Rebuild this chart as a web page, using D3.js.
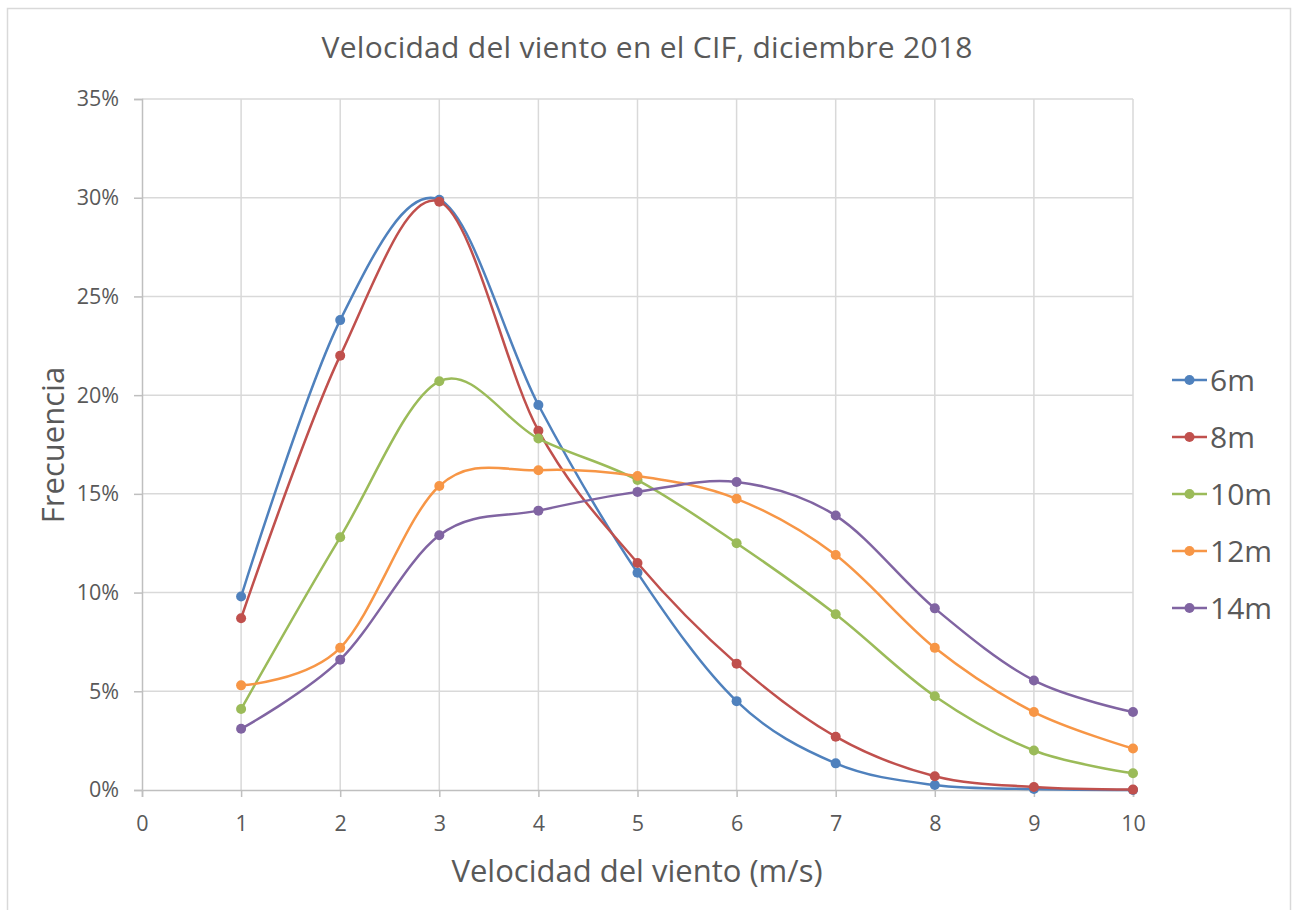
<!DOCTYPE html>
<html>
<head>
<meta charset="utf-8">
<script src="https://cdn.jsdelivr.net/npm/d3@7"></script>
<style>
  body { margin: 0; background: #fff; }
  text { font-family: "Open Sans", "Noto Sans", sans-serif; fill: #595959; }
</style>
</head>
<body>
<div id="chart"></div>
<script>
// wind speed classes (m/s)
var speeds = [1, 2, 3, 4, 5, 6, 7, 8, 9, 10];
var seriesNames = ["6m", "8m", "10m", "12m", "14m"];
var colors = ["#4F81BD", "#C0504D", "#9BBB59", "#F79646", "#8064A2"];

// frequencies (%)
var f6m  = [9.8, 23.8, 29.9, 19.5, 11.0, 4.5, 1.35, 0.25, 0.05, 0.0];
var f8m  = [8.7, 22.0, 29.8, 18.2, 11.5, 6.4, 2.7, 0.7, 0.15, 0.02];
var f10m = [4.1, 12.8, 20.7, 17.8, 15.7, 12.5, 8.9, 4.75, 2.0, 0.85];
var f12m = [5.3, 7.2, 15.4, 16.2, 15.9, 14.75, 11.9, 7.2, 3.95, 2.1];
var f14m = [3.1, 6.6, 12.9, 14.15, 15.1, 15.6, 13.9, 9.2, 5.55, 3.95];

var yTicks = [0, 5, 10, 15, 20, 25, 30, 35];
var xTicks = [0, 1, 2, 3, 4, 5, 6, 7, 8, 9, 10];

var allSeries = [f6m, f8m, f10m, f12m, f14m];

var width = 1296, height = 910;
var svg = d3.select("#chart").append("svg")
  .attr("width", width)
  .attr("height", height);

// outer frame of the chart
svg.append("rect")
  .attr("x", 7.5).attr("y", 8.5)
  .attr("width", 1283).attr("height", 920)
  .attr("fill", "none")
  .attr("stroke", "#d9d9d9")
  .attr("stroke-width", 1.5);

var x = d3.scaleLinear().domain([0, 10]).range([142, 1133]);
var y = d3.scaleLinear().domain([0, 35]).range([790, 99]);

// gridlines
svg.append("g").selectAll("line.h")
  .data(yTicks.slice(1))
  .enter().append("line")
    .attr("x1", x(0)).attr("x2", x(10))
    .attr("y1", function(d){ return y(d); })
    .attr("y2", function(d){ return y(d); })
    .attr("stroke", "#d9d9d9").attr("stroke-width", 1.5);

svg.append("g").selectAll("line.v")
  .data(xTicks.slice(1))
  .enter().append("line")
    .attr("x1", function(d){ return x(d); })
    .attr("x2", function(d){ return x(d); })
    .attr("y1", y(0)).attr("y2", y(35))
    .attr("stroke", "#d9d9d9").attr("stroke-width", 1.5);

// axes
var yAxis = d3.axisLeft(y)
  .tickValues(yTicks)
  .tickSize(8)
  .tickPadding(15)
  .tickFormat(function(d){ return d + "%"; });

var xAxis = d3.axisBottom(x)
  .tickValues(xTicks)
  .tickSize(7)
  .tickPadding(19)
  .tickFormat(d3.format("d"));

var gy = svg.append("g").attr("transform", "translate(" + x(0) + ",0)").call(yAxis);
var gx = svg.append("g").attr("transform", "translate(0," + y(0) + ")").call(xAxis);

[gy, gx].forEach(function(g){
  g.select(".domain").attr("stroke", "#bfbfbf").attr("stroke-width", 1.5);
  g.selectAll(".tick line").attr("stroke", "#bfbfbf").attr("stroke-width", 1.5);
  g.selectAll(".tick text")
    .style("font-size", "21.5px")
    .style("fill", "#595959")
    .style("font-family", "'Open Sans', sans-serif");
});

// smooth lines like the spreadsheet
var line = d3.line()
  .x(function(d){ return x(d[0]); })
  .y(function(d){ return y(d[1]); })
  .curve(d3.curveCatmullRom.alpha(0));

allSeries.forEach(function(vals, i){
  var pts = speeds.map(function(s, j){ return [s, vals[j]]; });
  svg.append("path")
    .datum(pts)
    .attr("d", line)
    .attr("fill", "none")
    .attr("stroke", colors[i])
    .attr("stroke-width", 2.5);

  svg.append("g").selectAll("circle")
    .data(pts)
    .enter().append("circle")
      .attr("cx", function(d){ return x(d[0]); })
      .attr("cy", function(d){ return y(d[1]); })
      .attr("r", 5)
      .attr("fill", colors[i]);
});

// title
svg.append("text")
  .attr("x", 647).attr("y", 58)
  .attr("text-anchor", "middle")
  .style("font-size", "30px")
  .attr("textLength", 651)
  .text("Velocidad del viento en el CIF, diciembre 2018");

// axis titles
svg.append("text")
  .attr("x", 637).attr("y", 882)
  .attr("text-anchor", "middle")
  .style("font-size", "31px")
  .text("Velocidad del viento (m/s)");

svg.append("text")
  .attr("transform", "translate(64,445) rotate(-90)")
  .attr("text-anchor", "middle")
  .style("font-size", "31px")
  .text("Frecuencia");

// legend
var legend = svg.append("g").selectAll("g")
  .data(seriesNames)
  .enter().append("g")
    .attr("transform", function(d, i){ return "translate(1172," + (380 + i * 57) + ")"; });

legend.append("line")
  .attr("x1", 0).attr("x2", 35)
  .attr("stroke", function(d, i){ return colors[i]; })
  .attr("stroke-width", 2.5);
legend.append("circle")
  .attr("cx", 17.5).attr("r", 5)
  .attr("fill", function(d, i){ return colors[i]; });
legend.append("text")
  .attr("x", 38).attr("dy", "0.36em")
  .style("font-size", "30px")
  .text(function(d){ return d; });
</script>
</body>
</html>
